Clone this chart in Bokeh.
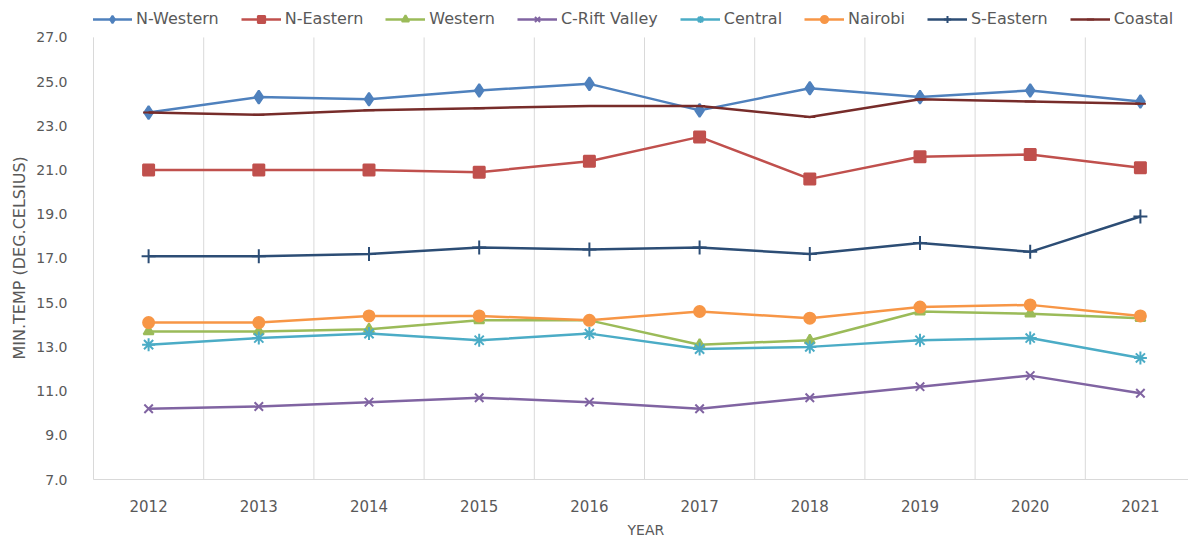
from bokeh.plotting import figure
from bokeh.models import Range1d, FixedTicker, Legend, LegendItem, PrintfTickFormatter, Title
from bokeh.embed import file_html
from bokeh.resources import INLINE

years = [2012, 2013, 2014, 2015, 2016, 2017, 2018, 2019, 2020, 2021]
y_ticks = [7, 9, 11, 13, 15, 17, 19, 21, 23, 25, 27]

n_western = [23.6, 24.3, 24.2, 24.6, 24.9, 23.7, 24.7, 24.3, 24.6, 24.1]
n_eastern = [21.0, 21.0, 21.0, 20.9, 21.4, 22.5, 20.6, 21.6, 21.7, 21.1]
western = [13.7, 13.7, 13.8, 14.2, 14.2, 13.1, 13.3, 14.6, 14.5, 14.3]
c_rift_valley = [10.2, 10.3, 10.5, 10.7, 10.5, 10.2, 10.7, 11.2, 11.7, 10.9]
central = [13.1, 13.4, 13.6, 13.3, 13.6, 12.9, 13.0, 13.3, 13.4, 12.5]
nairobi = [14.1, 14.1, 14.4, 14.4, 14.2, 14.6, 14.3, 14.8, 14.9, 14.4]
s_eastern = [17.1, 17.1, 17.2, 17.5, 17.4, 17.5, 17.2, 17.7, 17.3, 18.9]
coastal = [23.6, 23.5, 23.7, 23.8, 23.9, 23.9, 23.4, 24.2, 24.1, 24.0]

series = [
    ("N-Western", n_western, "#4F81BD", "diamond", 13),
    ("N-Eastern", n_eastern, "#C0504D", "square", 11),
    ("Western", western, "#9BBB59", "triangle", 10),
    ("C-Rift Valley", c_rift_valley, "#8064A2", "x", 12),
    ("Central", central, "#4BACC6", "asterisk", 13),
    ("Nairobi", nairobi, "#F79646", "circle", 11),
    ("S-Eastern", s_eastern, "#2C4D75", "cross", 14),
    ("Coastal", coastal, "#772C2A", "dash", 11),
]

FONT = "DejaVu Sans"
GRAY = "#595959"

W, H = 1188, 542
left, top_gap, bottom = 93, 37, 62
frame_w = W - left
frame_h = H - bottom
px_per_year = 110.2
px_per_deg = (frame_h - top_gap) / (y_ticks[-1] - y_ticks[0])

p = figure(width=W, height=H, output_backend="svg", toolbar_location=None,
           x_range=Range1d(years[0] - 0.5, years[0] - 0.5 + frame_w / px_per_year),
           y_range=Range1d(y_ticks[0], y_ticks[0] + frame_h / px_per_deg),
           min_border_left=left, min_border_right=0,
           min_border_top=0, min_border_bottom=bottom)
p.outline_line_color = None
p.background_fill_color = "white"
p.border_fill_color = "white"
p.xgrid.grid_line_color = None
p.ygrid.grid_line_color = None

# vertical separators at category boundaries, spanning the value axis only
bounds_x = [y - 0.5 for y in years] + [years[-1] + 0.5]
p.segment(x0=bounds_x, y0=[y_ticks[0]] * len(bounds_x),
          x1=bounds_x, y1=[y_ticks[-1]] * len(bounds_x),
          line_color="#D9D9D9", line_width=1)

# x axis
p.xaxis.ticker = FixedTicker(ticks=years)
p.xaxis.axis_line_color = "#D9D9D9"
p.xaxis.major_tick_line_color = None
p.xaxis.minor_tick_line_color = None
p.xaxis.major_label_text_font = FONT
p.xaxis.major_label_text_font_size = "15px"
p.xaxis.major_label_text_color = GRAY
p.xaxis.major_label_standoff = 14

# y axis
p.yaxis.ticker = FixedTicker(ticks=y_ticks)
p.yaxis.bounds = (y_ticks[0], y_ticks[-1])
p.yaxis.formatter = PrintfTickFormatter(format="%.1f")
p.yaxis.axis_line_color = "#D9D9D9"
p.yaxis.major_tick_line_color = None
p.yaxis.minor_tick_line_color = None
p.yaxis.major_label_text_font = FONT
p.yaxis.major_label_text_font_size = "14px"
p.yaxis.major_label_text_color = GRAY
p.yaxis.major_label_standoff = 20

# axis titles
p.add_layout(Title(text="MIN.TEMP (DEG.CELSIUS)", align="left", offset=120,
                   standoff=10, text_font=FONT, text_font_size="16px",
                   text_font_style="normal", text_color=GRAY), "left")
p.add_layout(Title(text="YEAR", align="left", offset=534,
                   standoff=10, text_font=FONT, text_font_size="14px",
                   text_font_style="normal", text_color=GRAY), "below")

items = []
for name, vals, color, marker, size in series:
    ln = p.line(years, vals, line_color=color, line_width=2.5)
    mk = p.scatter(years, vals, marker=marker, size=size,
                   fill_color=color, line_color=color, line_width=2)
    items.append(LegendItem(label=name, renderers=[ln, mk]))

legend = Legend(items=items, orientation="horizontal",
                location=(-1, frame_h - 29),
                glyph_width=40, glyph_height=18, label_height=18,
                label_standoff=4, spacing=22,
                padding=0, margin=0,
                label_text_font=FONT, label_text_font_size="16px",
                label_text_color=GRAY,
                background_fill_alpha=0, border_line_color=None)
p.add_layout(legend)

open("out.html", "w").write(file_html(p, INLINE))
